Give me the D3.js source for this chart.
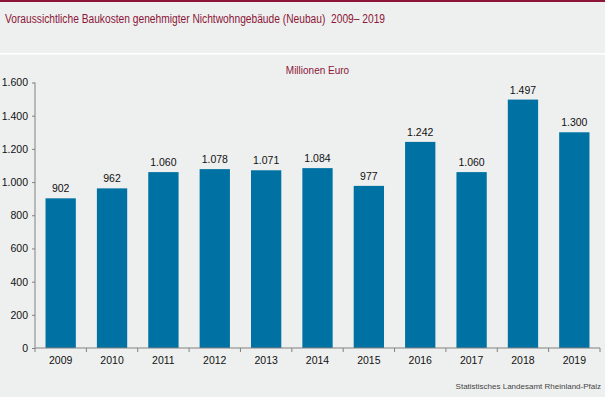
<!DOCTYPE html>
<html>
<head>
<meta charset="utf-8">
<script src="https://cdn.jsdelivr.net/npm/d3@7"></script>
<style>
  body { margin: 0; background: #eef0ef; }
  svg { display: block; font-family: "Liberation Sans", Arial, sans-serif; }
</style>
</head>
<body>
<div id="chart"></div>
<script>
// --------------- Data ---------------
const years = ["2009", "2010", "2011", "2012", "2013", "2014", "2015", "2016", "2017", "2018", "2019"];
const costs = [902, 962, 1060, 1078, 1071, 1084, 977, 1242, 1060, 1497, 1300];
const yTicks = [0, 200, 400, 600, 800, 1000, 1200, 1400, 1600];

// --------------- Constants ---------------
const WIDTH = 605;
const HEIGHT = 397;
const BAR_COLOR = "#0071a3";
const RED = "#8c1538";
const AXIS_COLOR = "#808080";
const margin = { top: 82.5, right: 5, bottom: 49, left: 35 };

const fmt = (v) => d3.format(",")(v).replace(/,/g, ".");

const svg = d3.select("#chart").append("svg")
  .attr("width", WIDTH)
  .attr("height", HEIGHT);

svg.append("rect").attr("width", WIDTH).attr("height", HEIGHT).attr("fill", "#eef0ef");
svg.append("rect").attr("width", WIDTH).attr("height", 2).attr("fill", RED);
svg.append("rect").attr("y", 53).attr("width", WIDTH).attr("height", 1.5).attr("fill", "#ffffff");

svg.append("text")
  .attr("x", 5).attr("y", 23)
  .attr("fill", RED)
  .attr("font-size", 12)
  .style("white-space", "pre")
  .attr("textLength", 380)
  .attr("lengthAdjust", "spacingAndGlyphs")
  .text("Voraussichtliche Baukosten genehmigter Nichtwohngebäude (Neubau)  2009– 2019");

const x = d3.scaleBand()
  .domain(years)
  .range([margin.left, WIDTH - margin.right])
  .paddingInner(0.41)
  .paddingOuter(0.205);

const y = d3.scaleLinear()
  .domain([0, 1600])
  .range([HEIGHT - margin.bottom, margin.top]);

svg.append("text")
  .attr("x", (margin.left + WIDTH - margin.right) / 2)
  .attr("y", 74)
  .attr("text-anchor", "middle")
  .attr("fill", RED)
  .attr("font-size", 10)
  .text("Millionen Euro");

// Bars
svg.append("g")
  .selectAll("rect")
  .data(costs)
  .join("rect")
  .attr("x", (_d, i) => x(years[i]))
  .attr("y", (d) => y(d))
  .attr("width", x.bandwidth())
  .attr("height", (d) => y(0) - y(d))
  .attr("fill", BAR_COLOR);

// Value labels
svg.append("g")
  .selectAll("text")
  .data(costs)
  .join("text")
  .attr("x", (_d, i) => x(years[i]) + x.bandwidth() / 2)
  .attr("y", (d) => y(d) - 6)
  .attr("text-anchor", "middle")
  .attr("font-size", 10.5)
  .attr("fill", "#111")
  .text((d) => fmt(d));

// Y axis
const yAxis = svg.append("g")
  .attr("transform", `translate(${margin.left},0)`)
  .call(d3.axisLeft(y).tickValues(yTicks).tickSize(3).tickPadding(4).tickFormat(fmt));
yAxis.select(".domain").attr("stroke", AXIS_COLOR).attr("d", `M0,${y(0)}V${y(1600)}`);
yAxis.selectAll(".tick line").attr("stroke", AXIS_COLOR);
yAxis.selectAll(".tick text")
  .attr("font-size", 10.5).attr("fill", "#111")
  .attr("font-family", "Liberation Sans, Arial, sans-serif");

// X axis
const xg = svg.append("g").attr("transform", `translate(0,${y(0)})`);
xg.append("line")
  .attr("x1", margin.left).attr("x2", WIDTH - margin.right)
  .attr("stroke", AXIS_COLOR);
const step = x.step();
xg.selectAll("line.tk")
  .data(d3.range(years.length + 1))
  .join("line")
  .attr("class", "tk")
  .attr("x1", (i) => margin.left + i * step)
  .attr("x2", (i) => margin.left + i * step)
  .attr("y1", 0).attr("y2", 4)
  .attr("stroke", AXIS_COLOR);
xg.selectAll("text")
  .data(years)
  .join("text")
  .attr("x", (d) => x(d) + x.bandwidth() / 2)
  .attr("y", 16)
  .attr("text-anchor", "middle")
  .attr("font-size", 10.5)
  .attr("fill", "#111")
  .text((d) => d);

svg.append("text")
  .attr("x", 601).attr("y", 389)
  .attr("text-anchor", "end")
  .attr("font-size", 8)
  .attr("fill", "#444")
  .text("Statistisches Landesamt Rheinland-Pfalz");
</script>
</body>
</html>
